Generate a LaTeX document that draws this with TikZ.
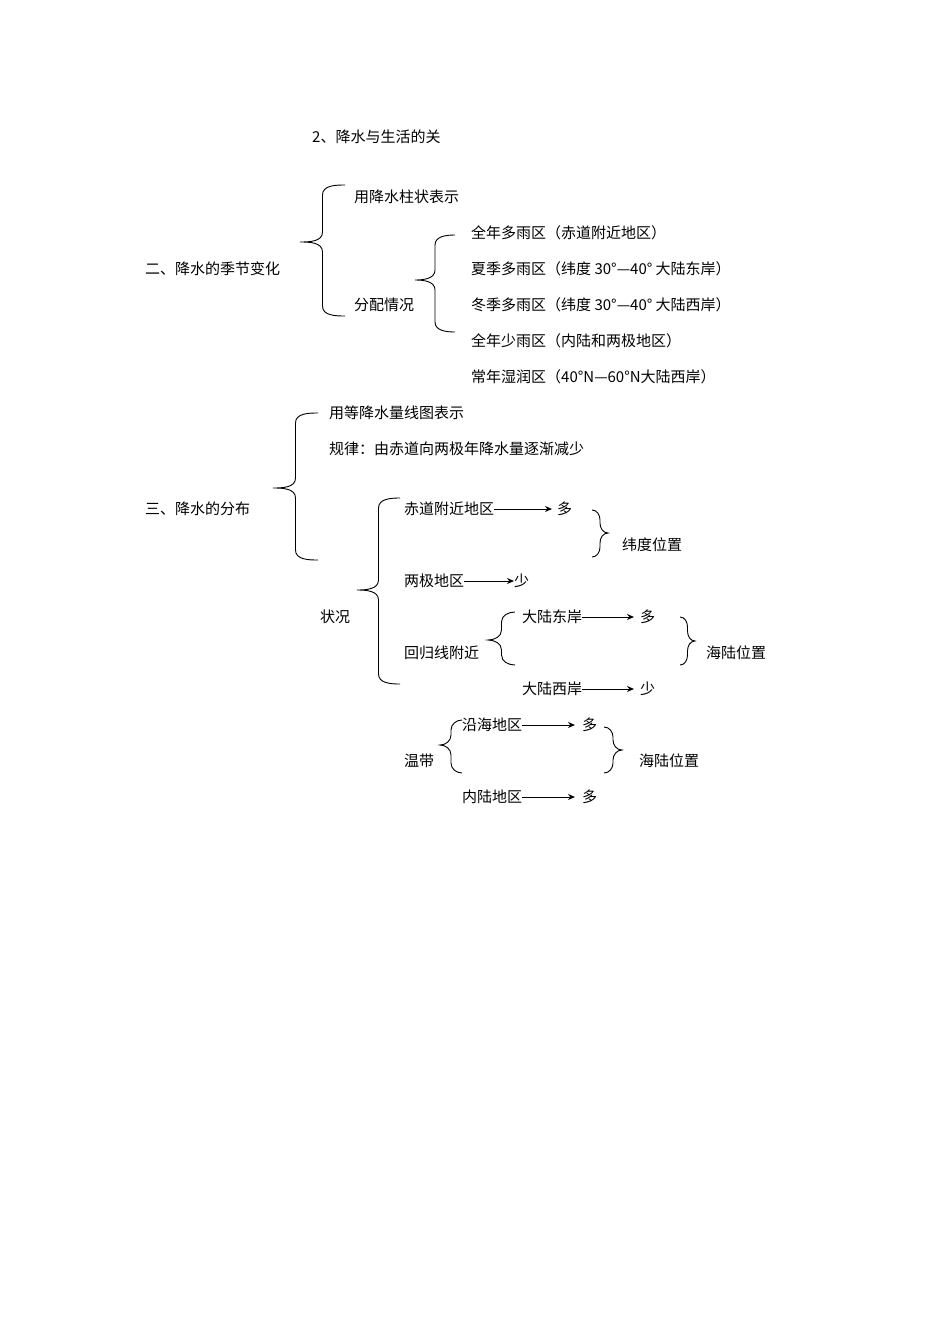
\documentclass[tikz,border=0pt]{standalone}
\usepackage{fontspec}
\setmainfont{Noto Sans CJK SC}
\usetikzlibrary{arrows.meta}
\newcommand\Lbr[5]{\pgfmathsetmacro\bm{(#1+#2)/2}\pgfmathsetmacro\ya{#3-10}\pgfmathsetmacro\yb{#5+10}\pgfmathsetmacro\yc{#5-10}\pgfmathsetmacro\yd{#4+10}%
\draw[brc] (#2,#3) to[out=180,in=90] (\bm,\ya) -- (\bm,\yb) to[out=-90,in=0] (#1,#5) to[out=0,in=90] (\bm,\yc) -- (\bm,\yd) to[out=-90,in=180] (#2,#4);}
\newcommand\Rbr[5]{\pgfmathsetmacro\bm{(#1+#2)/2}\pgfmathsetmacro\ya{#3-10}\pgfmathsetmacro\yb{#5+10}\pgfmathsetmacro\yc{#5-10}\pgfmathsetmacro\yd{#4+10}%
\draw[brc] (#2,#3) to[out=0,in=90] (\bm,\ya) -- (\bm,\yb) to[out=-90,in=180] (#1,#5) to[out=180,in=90] (\bm,\yc) -- (\bm,\yd) to[out=-90,in=0] (#2,#4);}
\begin{document}
\begin{tikzpicture}[x=1pt,y=1pt,
  t/.style={anchor=west,inner sep=0pt,font=\fontsize{15}{18}\selectfont},
  brc/.style={line width=0.9pt},
  arr/.style={-{Stealth[length=7pt,width=6pt]},line width=1pt}]
\useasboundingbox (0,0) rectangle (950,-1344);
\node[t] (h) at (312,-137) {2、降水与生活的关};
\node[t] (a1) at (354,-197) {用降水柱状表示};
\node[t] (a) at (145,-269) {二、降水的季节变化};
\node[t] (a2) at (354,-305) {分配情况};
\node[t] (b1) at (471,-233) {全年多雨区（赤道附近地区）};
\node[t] (b2) at (471,-269) {夏季多雨区（纬度 30°—40° 大陆东岸）};
\node[t] (b3) at (471,-305) {冬季多雨区（纬度 30°—40° 大陆西岸）};
\node[t] (b4) at (471,-341) {全年少雨区（内陆和两极地区）};
\node[t] (b5) at (471,-377) {常年湿润区（40°N—60°N大陆西岸）};
\Lbr{300}{345}{-185}{-316}{-242}
\Lbr{415}{455}{-235}{-332}{-280}
\node[t] (c1) at (329,-413) {用等降水量线图表示};
\node[t] (c2) at (329,-449) {规律：由赤道向两极年降水量逐渐减少};
\node[t] (c) at (145,-509) {三、降水的分布};
\Lbr{273}{318}{-413}{-560}{-488}
\node[t] (d1) at (404,-509) {赤道附近地区};
\node[t] (d1r) at (557,-509) {多};
\draw[arr] (d1.east) -- (552,-509);
\Rbr{608}{592}{-510}{-557}{-533}
\node[t] (w1) at (622,-545) {纬度位置};
\node[t] (d2) at (404,-581) {两极地区};
\node[t] (d2r) at (514,-581) {少};
\draw[arr] (d2.east) -- (d2r.west);
\node[t] (z) at (320,-617) {状况};
\Lbr{357}{400}{-498}{-684}{-590}
\node[t] (e1) at (522,-617) {大陆东岸};
\node[t] (e1r) at (640,-617) {多};
\draw[arr] (e1.east) -- (634,-617);
\node[t] (d3) at (404,-653) {回归线附近};
\Lbr{488}{515}{-612}{-665}{-640}
\Rbr{695}{680}{-617}{-665}{-641}
\node[t] (w2) at (706,-653) {海陆位置};
\node[t] (e2) at (522,-689) {大陆西岸};
\node[t] (e2r) at (640,-689) {少};
\draw[arr] (e2.east) -- (634,-689);
\node[t] (f1) at (462,-725) {沿海地区};
\node[t] (f1r) at (582,-725) {多};
\draw[arr] (f1.east) -- (575,-725);
\node[t] (g) at (404,-761) {温带};
\Lbr{440}{462}{-720}{-773}{-745}
\Rbr{622}{604}{-727}{-773}{-750}
\node[t] (w3) at (639,-761) {海陆位置};
\node[t] (f2) at (462,-797) {内陆地区};
\node[t] (f2r) at (582,-797) {多};
\draw[arr] (f2.east) -- (575,-797);
\end{tikzpicture}
\end{document}
